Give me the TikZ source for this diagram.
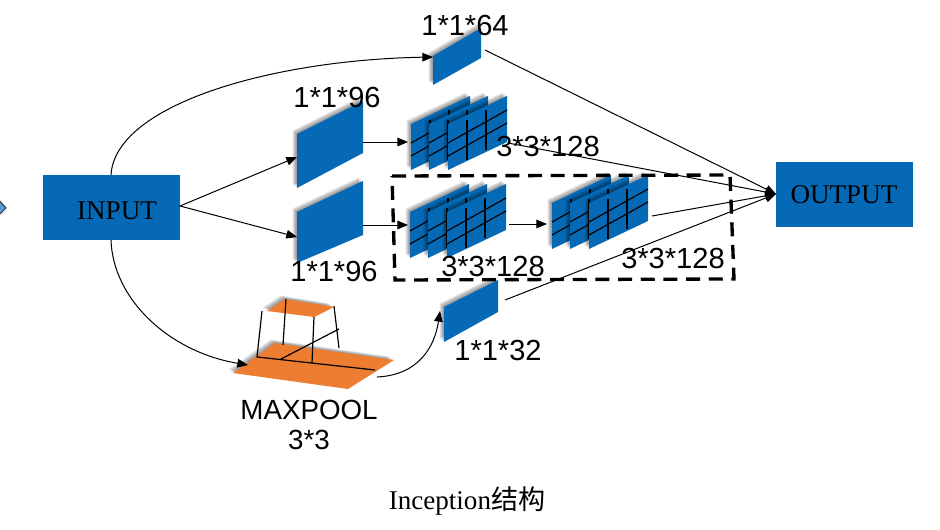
\documentclass[tikz,border=0pt]{standalone}
\usepackage{fontspec}
\setmainfont{Liberation Serif}
\newfontfamily\labelfont{Liberation Sans}
\newfontfamily\cjkfont{Noto Sans CJK SC}
\usetikzlibrary{arrows.meta}
\definecolor{netblue}{HTML}{0569B5}
\definecolor{poolorange}{HTML}{ED7D31}
\definecolor{smallblue}{HTML}{5B9BD5}
\tikzset{
  x=0.75pt,y=-0.75pt,
  conn/.style={draw=black,line width=0.75pt,-{Triangle[length=8pt,width=6.5pt]}},
  gridline/.style={draw=black,line width=0.9pt},
  boxnode/.style={fill=netblue,minimum width=102.75pt,minimum height=48.75pt,inner sep=0pt},
  boxtext/.style={font=\fontsize{20.3}{22}\selectfont,text=black,inner sep=0pt},
  sizelabel/.style={font=\labelfont\fontsize{21.8}{25}\selectfont,text=black,inner sep=0pt,align=center},
  poollabel/.style={font=\labelfont\fontsize{20.8}{22.5}\selectfont,text=black,inner sep=0pt,align=center},
}
% soft shadow up-left of a polygon
\newcommand{\softshadow}[1]{%
  \foreach \s in {1,2,3,4,5}{%
    \fill[black,opacity=0.09,shift={(-\s*0.9,-\s*0.7)}] #1 -- cycle;}%
}
\newcommand{\bluepoly}[1]{\softshadow{#1}\fill[netblue] #1 -- cycle;}
% one plane of a 3*3 grid: left x, bottom-left y
\newcommand{\gridplane}[2]{%
  \begin{scope}[shift={(#1,#2)}]
    \softshadow{(0,0) -- (0,-46) -- (59,-74) -- (59,-28)}
    \fill[netblue] (0,0) -- (0,-46) -- (59,-74) -- (59,-28) -- cycle;
    \draw[gridline] (0,-14) -- (59,-47);
    \draw[gridline] (0,-27) -- (59,-60);
    \draw[gridline] (19,-50) -- (19,-10);
    \draw[gridline] (38,-60) -- (38,-20);
  \end{scope}}
\newcommand{\gridblock}[2]{%
  \gridplane{#1}{#2}%
  \gridplane{\numexpr#1+18\relax}{#2}%
  \gridplane{\numexpr#1+37\relax}{#2}}
\begin{document}
\begin{tikzpicture}
\useasboundingbox (0,0) rectangle (940,529);
\clip (0,0) rectangle (940,529);
\fill[white] (0,0) rectangle (940,529);

% clipped shape at the left edge
\draw[fill=smallblue,draw=black!80,line width=0.75pt] (-3,198) -- (6,208) -- (-3,217) -- (-12,208) -- cycle;

% boxes
\node[boxnode,anchor=north west] (input) at (43,175) {};
\node[boxnode,anchor=north west] (output) at (776,162) {};

% flat blocks
\bluepoly{(433,56) -- (481,28) -- (481,58) -- (433,85)}
\bluepoly{(297,134) -- (363,101) -- (363,153) -- (297,188)}
\bluepoly{(297,212) -- (363,181) -- (363,235) -- (297,263)}
\bluepoly{(444,307) -- (498,280) -- (498,312) -- (444,342)}

% grid blocks
\gridblock{411}{170}
\gridblock{410}{258}
\gridblock{552}{249}

% maxpool
\softshadow{(233,373) -- (275,343) -- (394,360) -- (348,389)}
\fill[poolorange] (233,373) -- (275,343) -- (394,360) -- (348,389) -- cycle;
\softshadow{(267,311) -- (285,299) -- (334,307) -- (314,317)}
\fill[poolorange] (267,311) -- (285,299) -- (334,307) -- (314,317) -- cycle;
\draw[gridline] (262,311) -- (257,357) -- (375,370);
\draw[gridline] (286,299) -- (283,345);
\draw[gridline] (314,317) -- (312,363);
\draw[gridline] (334,306) -- (339,348);
\draw[gridline] (281,359) -- (339,329);

% connector end points
\coordinate (b64w) at (433,57);
\coordinate (b64e) at (485,50);
\coordinate (b96aw) at (297,157);
\coordinate (b96ae) at (363,142);
\coordinate (b96bw) at (297,237);
\coordinate (b96be) at (363,225);
\coordinate (gridaw) at (408,142);
\coordinate (gridae) at (508,143);
\coordinate (gridbw) at (408,225);
\coordinate (gridbe) at (509,224);
\coordinate (gridcw) at (547,224);
\coordinate (gridce) at (652,216);
\coordinate (poolw) at (248,365);
\coordinate (poole) at (377,377);
\coordinate (b32w) at (440,311);
\coordinate (b32e) at (505,300);
\coordinate (inN) at (111,175);
\coordinate (inS) at (111,240);
\coordinate (inE) at (180,206);
\coordinate (outW) at (776,194);

% connectors
\draw[conn] (inN) .. controls (115,105) and (270,60) .. (b64w);
\draw[conn] (inS) .. controls (113,300) and (170,352) .. (poolw);
\draw[conn] (inE) -- (b96aw);
\draw[conn] (inE) -- (b96bw);
\draw[conn] (b96ae) -- (gridaw);
\draw[conn] (b96be) -- (gridbw);
\draw[conn] (gridbe) -- (gridcw);
\draw[conn] (poole) .. controls (420,375) and (435,345) .. (b32w);
\draw[conn] (b64e) -- (outW);
\draw[conn] (gridae) -- (outW);
\draw[conn] (gridce) -- (outW);
\draw[conn] (b32e) -- (outW);

% dashed frame
\draw[black,line width=2.5pt,dash pattern=on 10.5pt off 6.5pt] (392,176) -- (730,175) -- (734,279) -- (395,280) -- cycle;

% labels
\node[boxtext] (inputtext) at (117,211) {INPUT};
\node[boxtext] (outputtext) at (844,195) {OUTPUT};
\node[sizelabel] (l64) at (465,25) {1*1*64};
\node[sizelabel] (l96a) at (337,97) {1*1*96};
\node[sizelabel] (l128a) at (548,146) {3*3*128};
\node[sizelabel] (l96b) at (334,271) {1*1*96};
\node[sizelabel] (l128b) at (493,266) {3*3*128};
\node[sizelabel] (l128c) at (673,258) {3*3*128};
\node[sizelabel] (l32) at (498,350) {1*1*32};
\node[poollabel] (lpool) at (309,425) {MAXPOOL\\3*3};
\node[font=\fontsize{20.3}{22}\selectfont,inner sep=0pt] (caption) at (467,501) {Inception{\cjkfont 结构}};
\end{tikzpicture}
\end{document}
